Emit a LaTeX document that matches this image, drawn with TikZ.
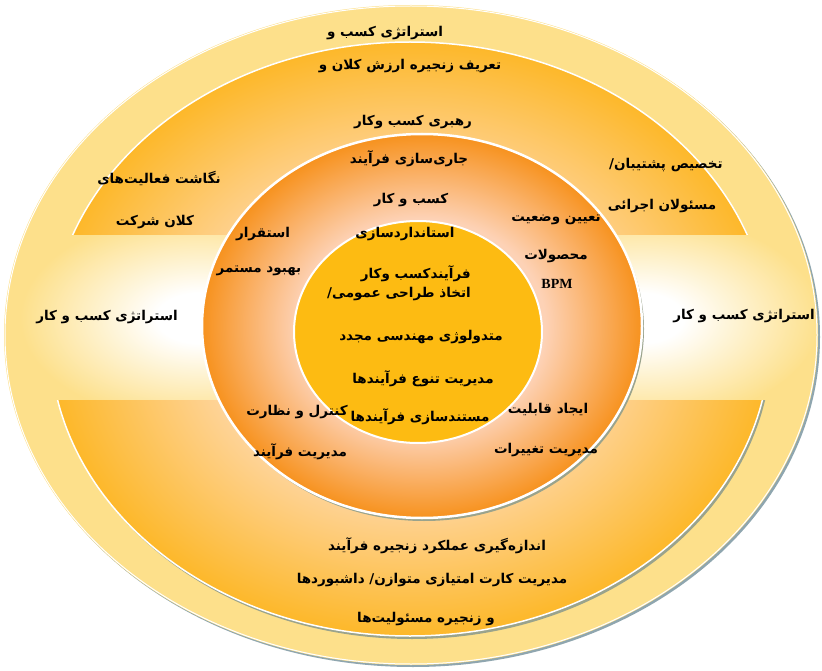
\documentclass[tikz,border=0pt]{standalone}
\usepackage{fontspec}
\usepackage{tikz}
\usetikzlibrary{positioning}
\TeXXeTstate=1
\setmainfont{Liberation Serif}
\newfontfamily\farsifont[Script=Arabic]{DejaVu Sans}
\newcommand{\fatext}[1]{\beginR#1\endR}

\definecolor{paleyellow}{HTML}{FDE08B}
\definecolor{bandgold}{HTML}{FDB82A}
\definecolor{bandlight}{HTML}{FED49A}
\definecolor{ringorange}{HTML}{F7921E}
\definecolor{ringpeach}{HTML}{FDD2B6}
\definecolor{coregold}{HTML}{FDBB12}
\definecolor{rimgray}{HTML}{8FA6AF}
\definecolor{rimolive}{HTML}{9AA38C}

\pgfdeclareradialshading{bandshade}{\pgfpointorigin}{color(0bp)=(bandlight); color(14bp)=(bandlight); color(25bp)=(bandgold); color(50bp)=(bandgold)}
\pgfdeclareradialshading{ringshade}{\pgfpointorigin}{color(0bp)=(ringpeach); color(14bp)=(ringpeach); color(25bp)=(ringorange); color(50bp)=(ringorange)}
\pgfdeclareradialshading{glowshade}{\pgfpointorigin}{color(0bp)=(white); color(6bp)=(white); color(25bp)=(paleyellow); color(50bp)=(paleyellow)}

\begin{document}
\begin{tikzpicture}[
    x=1pt, y=-1pt,
    fa/.style={font=\farsifont\bfseries\fontsize{13.5}{15}\selectfont, inner sep=0pt},
    rim/.style={draw=white, line width=1.5pt}
  ]
  \useasboundingbox (0,0) rectangle (822,671);

  \fill[rimgray] (413,337) ellipse [x radius=407, y radius=330];
  \fill[paleyellow] (411,335) ellipse [x radius=407, y radius=330];
  \draw[rim, line width=1pt] (411,335) ellipse [x radius=406, y radius=329];

  \begin{scope}
    \clip (0,235) rectangle (822,400);
    \clip (411,335) ellipse [x radius=405, y radius=328];
    \shade[shading=glowshade] (200,318) ellipse [x radius=180, y radius=105];
    \shade[shading=glowshade] (640,318) ellipse [x radius=180, y radius=105];
  \end{scope}

  \begin{scope}
    \clip (0,0) rectangle (822,235) (0,400) rectangle (822,671);
    \fill[rimolive] (412,342) ellipse [x radius=360, y radius=297];
    \shade[shading=bandshade] (410,339) ellipse [x radius=360, y radius=297];
    \draw[rim] (410,339) ellipse [x radius=360, y radius=297];
  \end{scope}

  \fill[rimolive] (424,329) ellipse [x radius=220, y radius=192];
  \shade[shading=ringshade] (422,326) ellipse [x radius=220, y radius=192];
  \draw[rim, line width=2.5pt] (422,326) ellipse [x radius=220, y radius=192];

  \fill[coregold] (418,332) ellipse [x radius=124, y radius=111];
  \draw[rim, line width=2pt] (418,332) ellipse [x radius=124, y radius=111];

  \node[fa] (topA) at (385,33) {\fatext{استراتژی کسب و}};
  \node[fa] (topB) at (410,66) {\fatext{تعریف زنجیره ارزش کلان و}};
  \node[fa] (lead) at (413,122) {\fatext{رهبری کسب وکار}};

  \node[fa] (mapA) at (159,178) {\fatext{نگاشت فعالیت‌های}};
  \node[fa] (mapB) at (155,222) {\fatext{کلان شرکت}};
  \node[fa] (sponsorA) at (666,165) {\fatext{تخصیص پشتیبان/}};
  \node[fa] (sponsorB) at (662,206) {\fatext{مسئولان  اجرائی}};

  \node[fa] (stratL) at (107,317) {\fatext{استراتژی کسب و کار}};
  \node[fa] (stratR) at (744,316) {\fatext{استراتژی کسب و کار}};

  \node[fa] (deployA) at (409,159) {\fatext{جاری‌سازی فرآیند}};
  \node[fa] (deployB) at (411,200) {\fatext{کسب و کار}};
  \node[fa] (installA) at (263,234) {\fatext{استقرار}};
  \node[fa] (installB) at (259,271) {\fatext{بهبود مستمر}};
  \node[fa] (statusA) at (556,220) {\fatext{تعیین وضعیت}};
  \node[fa] (statusB) at (556,256) {\fatext{محصولات}};
  \node[font=\rmfamily\bfseries\fontsize{14}{16}\selectfont, inner sep=0pt] (bpm) at (557,284) {BPM};
  \node[fa] (controlA) at (297,412) {\fatext{کنترل و نظارت}};
  \node[fa] (controlB) at (300,452) {\fatext{مدیریت فرآیند}};
  \node[fa] (enableA) at (548,410) {\fatext{ایجاد قابلیت}};
  \node[fa] (enableB) at (546,450) {\fatext{مدیریت تغییرات}};

  \node[fa] (standard) at (405,234) {\fatext{استانداردسازی}};
  \node[fa, anchor=east] (process) at (471,274) {\fatext{فرآیندکسب وکار}};
  \node[fa, anchor=east] (design) at (471,294) {\fatext{اتخاذ طراحی عمومی/}};
  \node[fa] (reeng) at (421,337) {\fatext{متدولوژی مهندسی مجدد}};
  \node[fa] (variety) at (423,379) {\fatext{مدیریت تنوع فرآیندها}};
  \node[fa] (docs) at (420,417) {\fatext{مستندسازی فرآیندها}};

  \node[fa] (measureA) at (437,546) {\fatext{اندازه‌گیری عملکرد زنجیره فرآیند}};
  \node[fa] (measureB) at (432,580) {\fatext{مدیریت کارت امتیازی متوازن/ داشبوردها}};
  \node[fa] (measureC) at (426,619) {\fatext{و زنجیره مسئولیت‌ها}};
\end{tikzpicture}
\end{document}
